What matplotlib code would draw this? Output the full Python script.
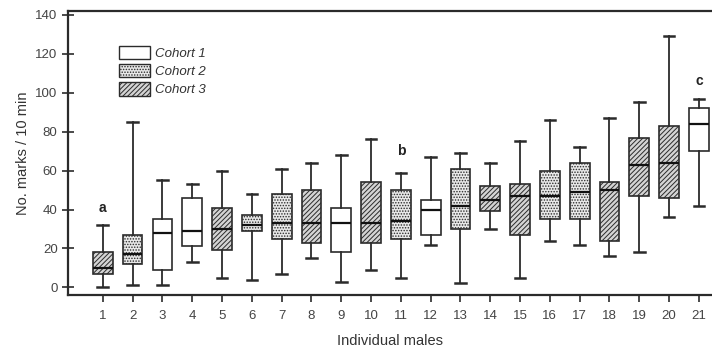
import matplotlib
matplotlib.use('Agg')
import matplotlib.pyplot as plt
from matplotlib.patches import Patch

# Box plot summaries (marks per 10 min)
males = list(range(1, 22))
cohort = [3, 2, 1, 1, 3, 2, 2, 3, 1, 3, 2, 1, 2, 3, 3, 2, 2, 3, 3, 3, 1]
whisk_lo = [0, 1, 1, 13, 5, 4, 7, 15, 3, 9, 5, 22, 2, 30, 5, 24, 22, 16, 18, 36, 42]
q1 = [7, 12, 9, 21, 19, 29, 25, 23, 18, 23, 25, 27, 30, 39, 27, 35, 35, 24, 47, 46, 70]
med = [10, 17, 28, 29, 30, 32, 33, 33, 33, 33, 34, 40, 42, 45, 47, 47, 49, 50, 63, 64, 84]
q3 = [18, 27, 35, 46, 41, 37, 48, 50, 41, 54, 50, 45, 61, 52, 53, 60, 64, 54, 77, 83, 92]
whisk_hi = [32, 85, 55, 53, 60, 48, 61, 64, 68, 76, 59, 67, 69, 64, 75, 86, 72, 87, 95, 129, 97]

# letters marking males singled out in the text
notes = {1: ('a', 41), 11: ('b', 70), 21: ('c', 106)}

cohort_names = ['Cohort 1', 'Cohort 2', 'Cohort 3']
fills = {1: ('white', ''), 2: ('#e8e8e8', '......'), 3: ('#d4d4d4', '///////')}
ink = '#2b2b2b'

plt.rcParams['hatch.linewidth'] = 0.7
plt.rcParams['font.family'] = ['Liberation Sans', 'DejaVu Sans']

fig = plt.figure(figsize=(7.12, 3.56), dpi=100)
ax = fig.add_axes([0.0955, 0.171, 0.9045, 0.798])

stats = []
for i in range(len(males)):
    stats.append({'whislo': whisk_lo[i], 'q1': q1[i], 'med': med[i],
                  'q3': q3[i], 'whishi': whisk_hi[i], 'fliers': []})

bp = ax.bxp(stats, positions=males, widths=0.66, patch_artist=True,
            showfliers=False, capwidths=0.36,
            boxprops=dict(linewidth=1.2, edgecolor=ink),
            medianprops=dict(color='#111111', linewidth=1.6),
            whiskerprops=dict(color=ink, linewidth=1.3),
            capprops=dict(color=ink, linewidth=1.8))

for box, c in zip(bp['boxes'], cohort):
    fc, h = fills[c]
    box.set_facecolor(fc)
    box.set_hatch(h)

for m, (txt, y) in notes.items():
    ax.text(m, y, txt, ha='center', va='center', fontsize=10,
            fontweight='bold', color='#222222')

handles = [Patch(facecolor=fills[c][0], hatch=fills[c][1], edgecolor=ink,
                 linewidth=1.0) for c in (1, 2, 3)]
leg = ax.legend(handles, cohort_names, loc='upper left',
                bbox_to_anchor=(0.06, 0.92), frameon=False, fontsize=9.5,
                handlelength=2.4, handleheight=1.2, labelspacing=0.3,
                handletextpad=0.4)
for t in leg.get_texts():
    t.set_fontstyle('italic')
    t.set_color('#333333')

ax.set_xlim(-0.17, 21.44)
ax.set_ylim(-4, 142)
ax.set_xticks(males)
ax.set_xticklabels([str(m) for m in males])
ax.set_yticks(range(0, 141, 20))
ax.tick_params(axis='x', direction='out', length=5, width=1.2,
               colors=ink, labelsize=9.5, labelcolor='#444444', pad=6)
ax.tick_params(axis='y', direction='inout', length=8, width=1.2,
               colors=ink, labelsize=9.5, labelcolor='#444444')
for s in ('left', 'bottom', 'top'):
    ax.spines[s].set_linewidth(1.6)
    ax.spines[s].set_color(ink)
ax.spines['right'].set_visible(False)

ax.set_ylabel('No. marks / 10 min', fontsize=10.5, color='#333333')
ax.set_xlabel('Individual males', fontsize=10.5, color='#333333', labelpad=8)

fig.savefig('out.png', dpi=100)
